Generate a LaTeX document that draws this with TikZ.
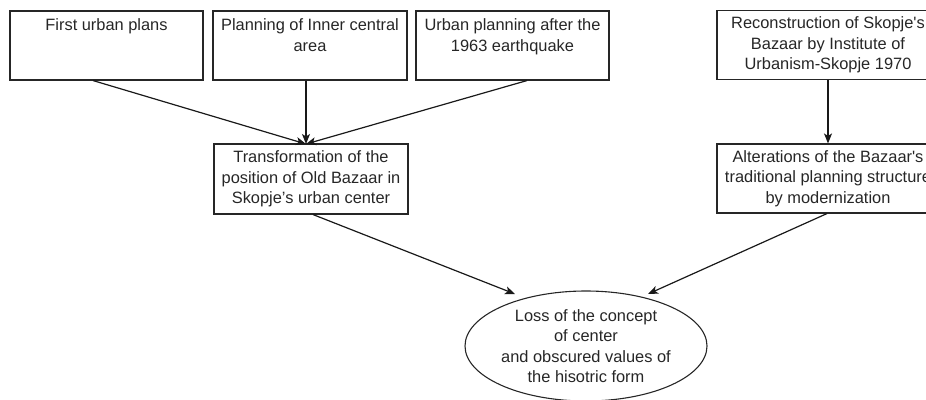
\documentclass[tikz,border=0pt]{standalone}
\usepackage{fontspec}
\setmainfont{Liberation Sans}
\usetikzlibrary{arrows.meta,calc,shapes.geometric}
\begin{document}
\begin{tikzpicture}[x=1pt,y=-1pt,
  box/.style={draw=black!85,line width=1.1pt,rectangle,align=center,inner sep=0pt,
    font=\fontsize{16.4}{20.5}\selectfont,text=black!85},
  oval/.style={draw=black!85,line width=1.1pt,ellipse,align=center,inner sep=0pt,
    minimum width=242pt,minimum height=110pt,font=\fontsize{16.4}{20.5}\selectfont,text=black!85},
  conn/.style={draw=black!90,line width=1.2pt,-{Stealth[length=10pt,width=8pt,inset=2.5pt]}}]
\useasboundingbox (0,0) rectangle (926,399);
\clip (0,0) rectangle (926,399);
\node[box,minimum width=193pt,minimum height=69pt] (b1) at (106.5,45.5) {First urban plans\\~\\~};
\node[box,minimum width=194pt,minimum height=69pt] (b2) at (310,45.5) {Planning of Inner central\\area\\~};
\node[box,minimum width=193pt,minimum height=69pt] (b3) at (512.5,45.5) {Urban planning after the\\1963 earthquake\\~};
\node[box,minimum width=222pt,minimum height=69pt] (b4) at (828,45) {Reconstruction of Skopje\textquotesingle s\\Bazaar by Institute of\\Urbanism-Skopje 1970};
\node[box,minimum width=194pt,minimum height=70pt] (t) at (311,179) {Transformation of the\\position of Old Bazaar in\\Skopje’s urban center};
\node[box,minimum width=222pt,minimum height=69pt] (a) at (828,178.5) {Alterations of the Bazaar\textquotesingle s\\traditional planning structure\\by modernization};
\node[oval] (e) at (586,346) {Loss of the concept\\of center\\and obscured values of\\the hisotric form};
\coordinate (m) at (306,144);
\coordinate (el) at (515,294);
\coordinate (er) at (648,294);
\draw[conn] ($(b1.south)+(-13.5,0)$) -- (m);
\draw[conn] ($(b2.south)+(-4,0)$) -- (m);
\draw[conn] ($(b3.south)+(14.5,0)$) -- (m);
\draw[conn] (b4.south) -- (a.north);
\draw[conn] ($(t.south)+(2,0)$) -- (el);
\draw[conn] ($(a.south)+(-1,0)$) -- (er);
\end{tikzpicture}
\end{document}
